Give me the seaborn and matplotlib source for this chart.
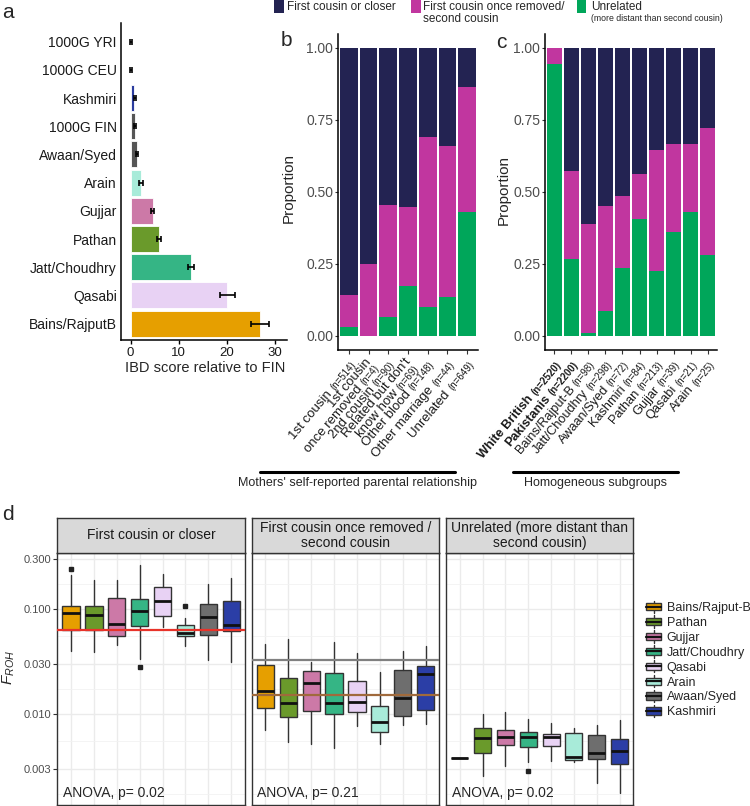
import matplotlib
matplotlib.use('Agg')
import matplotlib.pyplot as plt
import seaborn as sns
import numpy as np
from matplotlib.patches import Rectangle
from matplotlib.lines import Line2D
from matplotlib.transforms import Affine2D, ScaledTranslation
from matplotlib.font_manager import FontProperties
from matplotlib.legend_handler import HandlerBase
from matplotlib.ticker import FixedLocator, NullFormatter

# ---------------- data ----------------
# panel a
a_groups = ["1000G YRI", "1000G CEU", "Kashmiri", "1000G FIN", "Awaan/Syed", "Arain",
            "Gujjar", "Pathan", "Jatt/Choudhry", "Qasabi", "Bains/RajputB"]
a_score = [0.05, 0.05, 0.8, 1.0, 1.3, 2.1, 4.6, 5.9, 12.5, 20.1, 26.9]
a_lo = [-0.1, -0.1, 0.6, 0.8, 1.1, 1.8, 4.2, 5.5, 11.9, 18.6, 25.0]
a_hi = [0.2, 0.2, 1.1, 1.2, 1.6, 2.5, 4.9, 6.4, 13.1, 21.7, 28.7]
a_colors = ["#FFFFFF", "#FFFFFF", "#2B3C9E", "#555555", "#555555", "#A8EBD9",
            "#CC79A7", "#6A9A2B", "#35B585", "#E8D2F4", "#E69F00"]

# panel b
b_lines = [["1st cousin"], ["1st cousin", "once removed"], ["2nd cousin"],
           ["Related but don't", "know how"], ["Other blood"], ["Other marriage"], ["Unrelated"]]
b_n = [514, 4, 90, 69, 148, 44, 649]
b_unrel = [0.03, 0.0, 0.064, 0.171, 0.099, 0.134, 0.429]
b_second = [0.11, 0.25, 0.389, 0.274, 0.589, 0.523, 0.435]
b_first = [0.86, 0.75, 0.547, 0.555, 0.312, 0.343, 0.136]

# panel c
c_cats = ["White British", "Pakistanis", "Bains/Rajput-B", "Jatt/Choudhry", "Awaan/Syed",
          "Kashmiri", "Pathan", "Gujjar", "Qasabi", "Arain"]
c_n = [2520, 2200, 98, 298, 72, 84, 213, 39, 21, 25]
c_bold = [True, True, False, False, False, False, False, False, False, False]
c_unrel = [0.943, 0.265, 0.01, 0.086, 0.236, 0.404, 0.225, 0.36, 0.428, 0.279]
c_second = [0.057, 0.305, 0.378, 0.365, 0.25, 0.156, 0.418, 0.306, 0.238, 0.441]
c_first = [0.0, 0.43, 0.612, 0.549, 0.514, 0.44, 0.357, 0.334, 0.334, 0.28]

rel_labels = ["First cousin or closer", "First cousin once removed/\nsecond cousin", "Unrelated"]
NAVY, MAG, GREEN = "#232352", "#C1369F", "#00A65A"

# panel d
d_groups = ["Bains/Rajput-B", "Pathan", "Gujjar", "Jatt/Choudhry", "Qasabi", "Arain",
            "Awaan/Syed", "Kashmiri"]
d_colors = ["#E69F00", "#6A9A2B", "#CC79A7", "#35B585", "#E8D2F4", "#A8EBD9", "#6E6E6E", "#2B3EA6"]
d_titles = ["First cousin or closer", "First cousin once removed /\nsecond cousin",
            "Unrelated (more distant than\nsecond cousin)"]
d_anova = ["ANOVA, p= 0.02", "ANOVA, p= 0.21", "ANOVA, p= 0.02"]

d1_whislo = [0.040, 0.0389, 0.0456, 0.0336, 0.0667, 0.0446, 0.0328, 0.0312]
d1_q1 = [0.0635, 0.0635, 0.0548, 0.0693, 0.0863, 0.0548, 0.0565, 0.062]
d1_med = [0.0916, 0.0877, 0.0724, 0.0949, 0.120, 0.0585, 0.0832, 0.0698]
d1_q3 = [0.106, 0.106, 0.127, 0.1246, 0.162, 0.0698, 0.112, 0.120]
d1_whishi = [0.209, 0.190, 0.190, 0.265, 0.216, 0.082, 0.174, 0.199]
d1_fliers = [[0.242], [], [], [0.028], [], [0.106], [], []]

d2_whislo = [0.00695, 0.00533, 0.00515, 0.00467, 0.0076, 0.00515, 0.00776, 0.008]
d2_q1 = [0.01136, 0.00938, 0.0107, 0.0100, 0.0104, 0.00675, 0.00944, 0.01087]
d2_med = [0.0164, 0.01268, 0.0195, 0.01268, 0.01285, 0.00835, 0.01415, 0.0241]
d2_q3 = [0.0292, 0.0221, 0.0254, 0.0245, 0.0204, 0.01177, 0.026, 0.0283]
d2_whishi = [0.0467, 0.0517, 0.0309, 0.0484, 0.038, 0.0251, 0.0397, 0.044]
d2_fliers = [[], [], [], [], [], [], [], []]

d3_whislo = [0.0038, 0.00258, 0.0032, 0.00344, 0.00352, 0.00349, 0.00218, 0.00175]
d3_q1 = [0.0038, 0.00419, 0.00501, 0.00482, 0.00498, 0.00365, 0.00373, 0.00332]
d3_med = [0.0038, 0.00582, 0.00596, 0.00596, 0.00596, 0.00387, 0.00423, 0.00438]
d3_q3 = [0.0038, 0.00737, 0.00705, 0.0067, 0.00641, 0.0066, 0.00622, 0.00575]
d3_whishi = [0.0038, 0.0100, 0.0103, 0.00898, 0.00817, 0.00732, 0.00787, 0.0088]
d3_fliers = [[], [], [], [0.00286], [], [], [], []]

d_reflines = [[(0.063, "#E8332A")], [(0.0328, "#808080"), (0.015, "#A06A3C")], []]
d_yticks = [0.003, 0.01, 0.03, 0.1, 0.3]
d_yticklabels = ["0.003", "0.010", "0.030", "0.100", "0.300"]
d_yminor = [0.00173, 0.00548, 0.01732, 0.0548, 0.1732]

# ---------------- style ----------------
sns.set_style('white')
plt.rcParams['font.family'] = ['Liberation Sans', 'DejaVu Sans']
plt.rcParams['mathtext.fontset'] = 'custom'
plt.rcParams['mathtext.it'] = 'Liberation Sans:italic'
plt.rcParams['mathtext.rm'] = 'Liberation Sans'

W, H = 750, 806
fig = plt.figure(figsize=(7.5, 8.06), dpi=100)
T = Affine2D().scale(1 / W, -1 / H).translate(0, 1) + fig.transFigure


def add_ax(l, t, r, b, **kw):
    return fig.add_axes([l / W, 1 - b / H, (r - l) / W, (b - t) / H], **kw)


def ftext(x, y, s, **kw):
    return fig.text(x, y, s, transform=T, **kw)


# ---------------- panel a ----------------
ax_a = add_ax(121, 23, 287, 340)
sns.barplot(x=a_score, y=a_groups, hue=a_groups, palette=dict(zip(a_groups, a_colors)),
            legend=False, ax=ax_a, width=0.92, edgecolor='white', linewidth=0.6,
            orient='h', errorbar=None, saturation=1)
sc = np.array(a_score)
ax_a.errorbar(sc, np.arange(len(a_groups)),
              xerr=[sc - np.array(a_lo), np.array(a_hi) - sc],
              fmt='none', ecolor='black', elinewidth=1.2, capsize=2, capthick=1.2, zorder=5)
ax_a.set_xlim(-2.0, 32.5)
ax_a.set_ylim(10.58, -0.66)
ax_a.set_xticks([0, 10, 20, 30])
ax_a.set_xlabel('')
ax_a.set_ylabel('')
for sp in ['top', 'right']:
    ax_a.spines[sp].set_visible(False)
for sp in ['left', 'bottom']:
    ax_a.spines[sp].set_color('black')
    ax_a.spines[sp].set_linewidth(1.1)
ax_a.tick_params(axis='y', length=0, pad=3, labelsize=10, labelcolor='#1a1a1a')
ax_a.tick_params(axis='x', length=3, width=1, pad=2, labelsize=9.5, labelcolor='#1a1a1a',
                 bottom=True, color='black')
ftext(205, 368.5, 'IBD score relative to FIN', ha='center', va='center', fontsize=10.5)


# ---------------- stacked bars b, c ----------------
def rich_labels(ax, lines_list, smalls, bolds, rot=50, fs=9.5, fs_small=7, pad=6.5):
    r = fig.canvas.get_renderer()
    th = np.deg2rad(rot)
    c, s = np.cos(th), np.sin(th)
    lh = fs * 0.78
    for i, (lines, small) in enumerate(zip(lines_list, smalls)):
        wt = 'bold' if bolds[i] else 'normal'
        n = len(lines)
        for j, line in enumerate(lines):
            d = fs * 0.72 + (j - (n - 1) / 2) * lh
            ox, oy = d * s, -pad - d * c
            if j == n - 1:
                ax.text(i, 0, small, fontsize=fs_small, fontweight=wt, rotation=rot,
                        rotation_mode='anchor', ha='right', va='baseline', color='#1a1a1a',
                        transform=ax.get_xaxis_transform()
                        + ScaledTranslation(ox / 72, oy / 72, fig.dpi_scale_trans),
                        clip_on=False)
                fp = FontProperties(family='Liberation Sans', size=fs_small, weight=wt)
                w, _, _ = r.get_text_width_height_descent(small, fp, ismath=False)
                wpt = w * 72 / fig.dpi + fs * 0.28
                ox, oy = ox - wpt * c, oy - wpt * s
            ax.text(i, 0, line, fontsize=fs, fontweight=wt, rotation=rot,
                    rotation_mode='anchor', ha='right', va='baseline', color='#1a1a1a',
                    transform=ax.get_xaxis_transform()
                    + ScaledTranslation(ox / 72, oy / 72, fig.dpi_scale_trans),
                    clip_on=False)


def stacked(ax, cats, first, second, unrel):
    first, second, unrel = map(np.array, (first, second, unrel))
    for vals, col in [(first + second + unrel, NAVY), (second + unrel, MAG), (unrel, GREEN)]:
        sns.barplot(x=cats, y=vals, color=col, saturation=1, width=0.9, linewidth=0,
                    errorbar=None, ax=ax)
    n = len(cats)
    ax.set_xlim(-0.55, n - 0.45)
    ax.set_ylim(-0.05, 1.047)
    ax.set_yticks([0, 0.25, 0.5, 0.75, 1.0])
    ax.set_yticklabels(['0.00', '0.25', '0.50', '0.75', '1.00'])
    ax.set_xticks(range(n))
    ax.set_xticklabels([])
    ax.set_xlabel('')
    ax.set_ylabel('')
    for sp in ['top', 'right']:
        ax.spines[sp].set_visible(False)
    for sp in ['left', 'bottom']:
        ax.spines[sp].set_color('black')
        ax.spines[sp].set_linewidth(1.1)
    ax.tick_params(axis='y', length=2.5, width=0.8, pad=1, labelsize=10, labelcolor='#4D4D4D',
                   left=True, color='#333333')
    ax.tick_params(axis='x', length=3, width=0.8, bottom=True, color='#333333')


ax_b = add_ax(338, 34, 478, 350)
b_cats = [" ".join(l) for l in b_lines]
stacked(ax_b, b_cats, b_first, b_second, b_unrel)
rich_labels(ax_b, b_lines, ["(n=%d)" % v for v in b_n], [False] * len(b_n))

ax_c = add_ax(545, 34, 717, 350)
stacked(ax_c, c_cats, c_first, c_second, c_unrel)
rich_labels(ax_c, [[cname] for cname in c_cats], ["(n=%d)" % v for v in c_n], c_bold, fs=9.2)

ftext(289, 188, 'Proportion', rotation=90, ha='center', va='center', fontsize=11)
ftext(504, 190, 'Proportion', rotation=90, ha='center', va='center', fontsize=11)

# brackets
fig.add_artist(Line2D([260, 455], [471.7, 471.7], transform=T, color='black', lw=2.2))
fig.add_artist(Line2D([513, 678], [471.7, 471.7], transform=T, color='black', lw=2.2))
ftext(358, 483, "Mothers' self-reported parental relationship", ha='center', va='center', fontsize=9)
ftext(596, 483, "Homogeneous subgroups", ha='center', va='center', fontsize=9)

# top legend
for (x0, col) in [(274, NAVY), (411, MAG), (576.7, GREEN)]:
    fig.add_artist(Rectangle((x0, 0), 9.5, 12.7, transform=T, facecolor=col, edgecolor='none'))
ftext(287, 6.5, rel_labels[0], ha='left', va='center', fontsize=8.5)
ftext(423, 13, rel_labels[1], ha='left', va='center', fontsize=8.5, linespacing=1.1)
ftext(591, 6.5, rel_labels[2], ha='left', va='center', fontsize=8.5)
ftext(591, 18.5, "(more distant than second cousin)", ha='left', va='center', fontsize=6.3)

# panel letters
ftext(8, 12, 'a', ha='center', va='center', fontsize=15)
ftext(286, 41, 'b', ha='center', va='center', fontsize=15)
ftext(501, 43, 'c', ha='center', va='center', fontsize=15)
ftext(7.5, 514, 'd', ha='center', va='center', fontsize=15)

# ---------------- panel d ----------------
panels_px = [(57.3, 245), (251.7, 439.3), (446, 633.3)]
stats_all = [
    (d1_whislo, d1_q1, d1_med, d1_q3, d1_whishi, d1_fliers),
    (d2_whislo, d2_q1, d2_med, d2_q3, d2_whishi, d2_fliers),
    (d3_whislo, d3_q1, d3_med, d3_q3, d3_whishi, d3_fliers),
]
for k, ((l, r), st) in enumerate(zip(panels_px, stats_all)):
    ax = add_ax(l, 552.7, r, 805)
    wl, q1, md, q3, wh, fl = st
    stats = [dict(whislo=wl[i], q1=q1[i], med=md[i], q3=q3[i], whishi=wh[i],
                  fliers=np.array(fl[i])) for i in range(len(d_groups))]
    bp = ax.bxp(stats, positions=range(len(d_groups)), widths=0.75, patch_artist=True,
                showcaps=False, manage_ticks=False,
                boxprops=dict(edgecolor='#333333', linewidth=1),
                medianprops=dict(color='#111111', linewidth=2),
                whiskerprops=dict(color='#333333', linewidth=1),
                flierprops=dict(marker='s', markersize=2.5, markerfacecolor='#222222',
                                markeredgecolor='#222222'))
    for patch, col in zip(bp['boxes'], d_colors):
        patch.set_facecolor(col)
    for (yv, col) in d_reflines[k]:
        ax.axhline(yv, color=col, lw=1.6, zorder=10)
    ax.set_yscale('log')
    ax.set_ylim(0.00135, 0.344)
    ax.set_xlim(-0.6, len(d_groups) - 0.4)
    ax.yaxis.set_major_locator(FixedLocator(d_yticks))
    ax.yaxis.set_minor_locator(FixedLocator(d_yminor))
    ax.yaxis.set_minor_formatter(NullFormatter())
    if k == 0:
        ax.set_yticklabels(d_yticklabels)
        ax.tick_params(axis='y', which='major', length=3, width=0.8, pad=1, labelsize=8,
                       labelcolor='#4D4D4D', left=True, color='#333333')
    else:
        ax.set_yticklabels([])
        ax.tick_params(axis='y', which='major', length=0)
    ax.tick_params(axis='y', which='minor', length=0)
    ax.set_xticks(range(len(d_groups)))
    ax.set_xticklabels([])
    ax.tick_params(axis='x', length=0)
    ax.set_axisbelow(True)
    ax.grid(True, which='major', color='#EBEBEB', lw=1.0)
    ax.yaxis.grid(True, which='minor', color='#F2F2F2', lw=0.6)
    for sp in ax.spines.values():
        sp.set_color('#333333')
        sp.set_linewidth(1)
    ax.text(0.03, 0.048, d_anova[k], transform=ax.transAxes, ha='left', va='center', fontsize=10)
    # strip
    sax = add_ax(l, 518, r, 552.7, facecolor='#D9D9D9')
    sax.set_xticks([])
    sax.set_yticks([])
    for sp in sax.spines.values():
        sp.set_color('#333333')
        sp.set_linewidth(1)
    sax.text(0.5, 0.5, d_titles[k], transform=sax.transAxes, ha='center', va='center',
             fontsize=10, linespacing=1.15, color='#1a1a1a')

ftext(9, 667, r'$F_{ROH}$', rotation=90, ha='center', va='center', fontsize=11)


class BoxKey(HandlerBase):
    def create_artists(self, legend, orig_handle, xdescent, ydescent, width, height,
                       fontsize, trans):
        x0, y0 = -xdescent, -ydescent
        fc = orig_handle.get_facecolor()
        cx = x0 + width / 2
        wl = Line2D([cx, cx], [y0 - 0.15 * height, y0 + 1.15 * height], color='#333333',
                    lw=1, transform=trans)
        rect = Rectangle((x0, y0 + 0.12 * height), width, 0.76 * height, facecolor=fc,
                         edgecolor='#333333', lw=1, transform=trans)
        med = Line2D([x0, x0 + width], [y0 + 0.5 * height] * 2, color='#111111', lw=1.6,
                     transform=trans)
        return [wl, rect, med]


handles = [Rectangle((0, 0), 1, 1, facecolor=c) for c in d_colors]
fig.legend(handles, d_groups, handler_map={Rectangle: BoxKey()}, loc='upper left',
           bbox_to_anchor=(646 / W, 1 - 602 / H), frameon=False, fontsize=9,
           handlelength=1.2, handleheight=0.8, handletextpad=0.45, labelspacing=0.22,
           borderaxespad=0, borderpad=0)

fig.savefig('out.png', dpi=100)
